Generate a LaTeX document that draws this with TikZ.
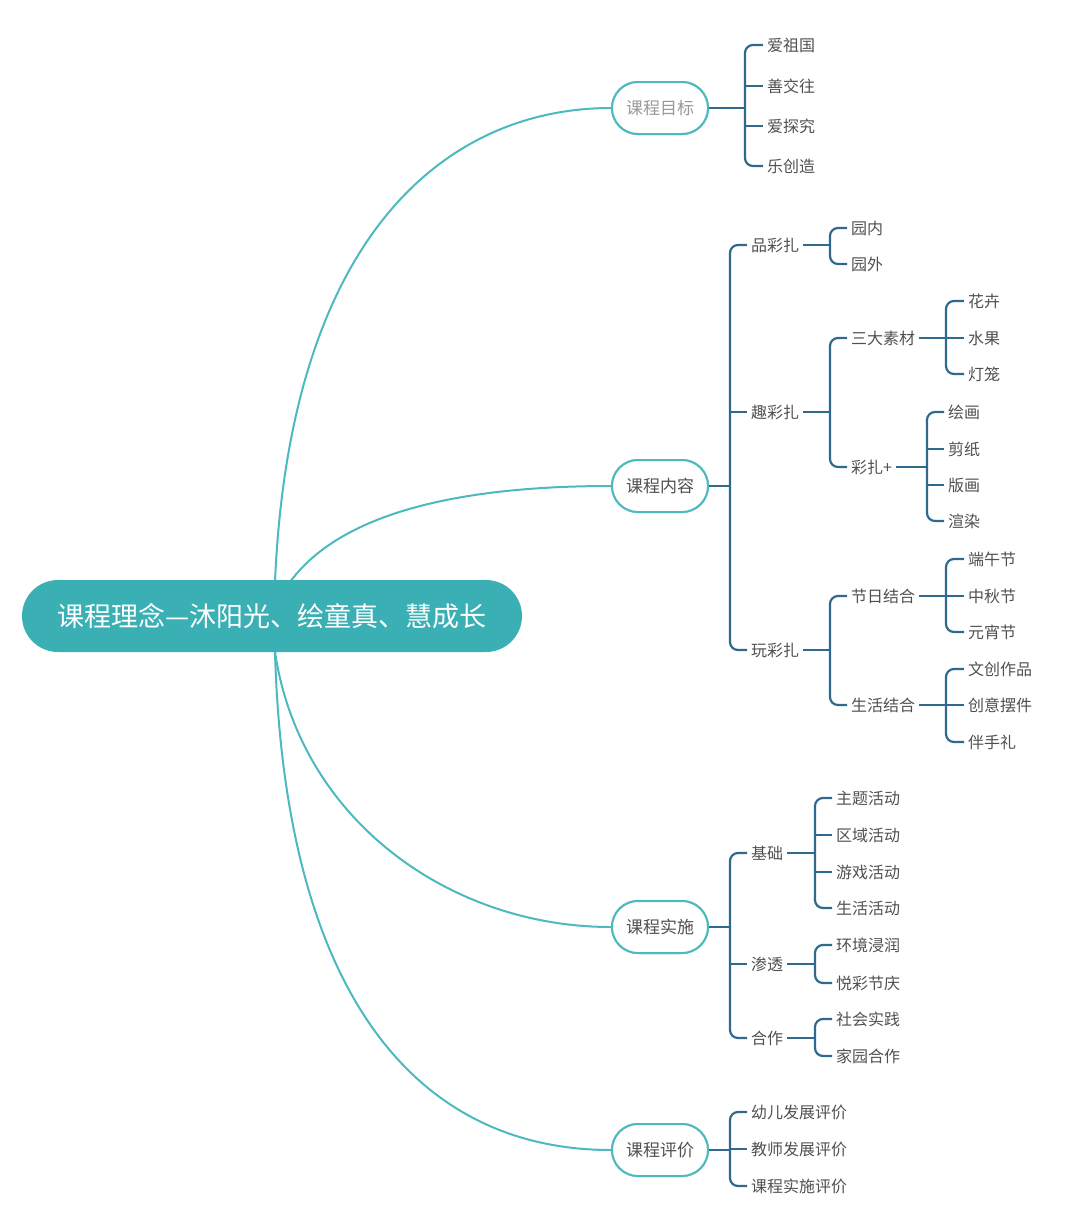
\documentclass[tikz,border=0pt]{standalone}
\usepackage{fontspec}
\setmainfont{Noto Sans CJK SC}
\definecolor{teal1}{HTML}{3AB0B5}
\definecolor{curv}{HTML}{4CB9BE}
\definecolor{brc}{HTML}{2F6A8C}
\definecolor{txt}{HTML}{505050}
\tikzset{
 br/.style={draw=brc,line width=2.2pt},
 cv/.style={draw=curv,line width=2pt},
 lf/.style={anchor=west,inner xsep=4pt,inner ysep=1pt,text=txt,font=\fontsize{16}{18}\selectfont},
 l1/.style={draw=curv,line width=2pt,rounded corners=26pt,minimum width=96pt,minimum height=52pt,fill=white,text=txt,font=\fontsize{17}{20}\selectfont},
}
\newcommand\mbrtwo[4]{%
 \coordinate (sp) at (#2,0);
 \draw[br] (#1.east) -- (sp |- #1.east);
 \draw[br,rounded corners=8pt] (#3.west) -- (sp |- #3.west) -- (sp |- #4.west) -- (#4.west);}
\newcommand\mbr[5]{%
 \mbrtwo{#1}{#2}{#3}{#4}%
 \foreach \c in {#5} {\draw[br] (sp |- \c.west) -- (\c.west);}}
\begin{document}
\begin{tikzpicture}[x=1pt,y=-1pt]
\useasboundingbox (0,0) rectangle (1080,1219);
% curves
\coordinate (r1) at (275,582);
\coordinate (r2) at (290,582);
\coordinate (r3) at (275,652);
\node[l1,text=gray!80] (g) at (660,108) {课程目标};
\node[l1] (n) at (660,486) {课程内容};
\node[l1] (s) at (660,927) {课程实施};
\node[l1] (p) at (660,1150) {课程评价};
\draw[cv] (r1) .. controls (290,230) and (450,108) .. (g.west);
\draw[cv] (r2) .. controls (350,500) and (500,486) .. (n.west);
\draw[cv] (r3) .. controls (300,820) and (450,927) .. (s.west);
\draw[cv] (r3) .. controls (285,1000) and (420,1150) .. (p.west);
\node[fill=teal1,text=white,rounded corners=36pt,minimum width=500pt,minimum height=72pt,font=\fontsize{27}{30}\selectfont] (root) at (272,616) {课程理念—沐阳光、绘童真、慧成长};
\node[l1,text=gray!80] at (660,108) {课程目标};
\node[l1] at (660,486) {课程内容};
\node[l1] at (660,927) {课程实施};
\node[l1] at (660,1150) {课程评价};
% goals
\node[lf] (g1) at (763,45) {爱祖国};
\node[lf] (g2) at (763,86) {善交往};
\node[lf] (g3) at (763,126) {爱探究};
\node[lf] (g4) at (763,166) {乐创造};
\mbr{g}{745}{g1}{g4}{g2,g3}
% content
\node[lf] (a) at (747,245) {品彩扎};
\node[lf] (b) at (747,412) {趣彩扎};
\node[lf] (c) at (747,650) {玩彩扎};
\mbr{n}{730}{a}{c}{b}
\node[lf] (a1) at (847,228) {园内};
\node[lf] (a2) at (847,264) {园外};
\mbrtwo{a}{830}{a1}{a2}
\node[lf] (b1) at (847,338) {三大素材};
\node[lf] (b2) at (847,467) {彩扎+};
\mbrtwo{b}{830}{b1}{b2}
\node[lf] (b11) at (964,301) {花卉};
\node[lf] (b12) at (964,338) {水果};
\node[lf] (b13) at (964,374) {灯笼};
\mbr{b1}{946}{b11}{b13}{b12}
\node[lf] (b21) at (944,412) {绘画};
\node[lf] (b22) at (944,449) {剪纸};
\node[lf] (b23) at (944,485) {版画};
\node[lf] (b24) at (944,521) {渲染};
\mbr{b2}{927}{b21}{b24}{b22,b23}
\node[lf] (c1) at (847,596) {节日结合};
\node[lf] (c2) at (847,705) {生活结合};
\mbrtwo{c}{830}{c1}{c2}
\node[lf] (c11) at (964,559) {端午节};
\node[lf] (c12) at (964,596) {中秋节};
\node[lf] (c13) at (964,632) {元宵节};
\mbr{c1}{946}{c11}{c13}{c12}
\node[lf] (c21) at (964,669) {文创作品};
\node[lf] (c22) at (964,705) {创意摆件};
\node[lf] (c23) at (964,742) {伴手礼};
\mbr{c2}{946}{c21}{c23}{c22}
% implementation
\node[lf] (d) at (747,853) {基础};
\node[lf] (e) at (747,964) {渗透};
\node[lf] (f) at (747,1038) {合作};
\mbr{s}{730}{d}{f}{e}
\node[lf] (d1) at (832,798) {主题活动};
\node[lf] (d2) at (832,835) {区域活动};
\node[lf] (d3) at (832,872) {游戏活动};
\node[lf] (d4) at (832,908) {生活活动};
\mbr{d}{815}{d1}{d4}{d2,d3}
\node[lf] (e1) at (832,945) {环境浸润};
\node[lf] (e2) at (832,983) {悦彩节庆};
\mbrtwo{e}{815}{e1}{e2}
\node[lf] (f1) at (832,1019) {社会实践};
\node[lf] (f2) at (832,1056) {家园合作};
\mbrtwo{f}{815}{f1}{f2}
% evaluation
\node[lf] (p1) at (747,1112) {幼儿发展评价};
\node[lf] (p2) at (747,1149) {教师发展评价};
\node[lf] (p3) at (747,1186) {课程实施评价};
\mbr{p}{730}{p1}{p3}{p2}
\end{tikzpicture}
\end{document}
